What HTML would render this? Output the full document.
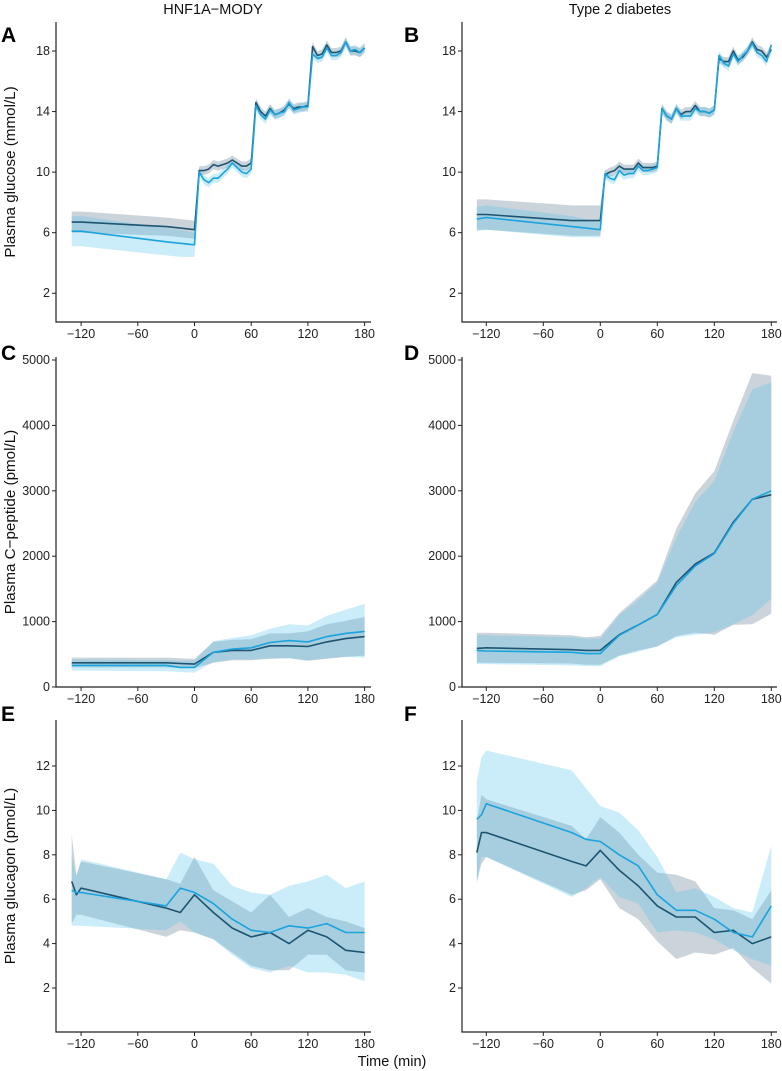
<!DOCTYPE html>
<html><head><meta charset="utf-8"><style>
body{margin:0;background:#fff;width:782px;height:1071px;overflow:hidden}
svg{display:block;font-family:"Liberation Sans",sans-serif}
</style></head><body>
<svg id="fig" width="782" height="1071" viewBox="0 0 782 1071"></svg>
<script>
const gTimes=[-130,-120,-30,-15,0,5,10,15,20,25,30,35,40,45,50,55,60,65,70,75,80,85,90,95,100,105,110,115,120,125,130,135,140,145,150,155,160,165,170,175,180];
const aDark=[6.7,6.7,6.4,6.3,6.2,10.1,10.1,10.2,10.5,10.4,10.5,10.6,10.8,10.6,10.4,10.4,10.6,14.6,14.0,13.7,14.2,13.8,13.9,14.1,14.5,14.2,14.3,14.3,14.4,18.3,17.7,17.8,18.4,17.9,17.9,18.0,18.6,18.0,18.0,17.9,18.2];
const aBlue=[6.1,6.1,5.4,5.3,5.2,10.0,9.5,9.3,9.6,9.6,9.9,10.2,10.6,10.3,10.0,9.9,10.2,14.4,13.8,13.5,14.1,13.8,13.9,14.0,14.6,14.1,14.2,14.3,14.3,17.8,17.5,17.6,18.2,17.7,17.7,17.9,18.6,18.0,18.1,17.9,18.2];
const bDark=[7.2,7.2,6.8,6.8,6.8,9.8,10.0,10.1,10.4,10.2,10.2,10.2,10.6,10.3,10.3,10.3,10.4,14.2,13.7,13.5,14.2,13.8,14.0,14.0,14.4,14.0,14.0,13.9,14.1,17.5,17.3,17.3,18.0,17.4,17.6,18.0,18.6,18.1,18.0,17.6,18.1];
const bBlue=[6.9,7.0,6.4,6.3,6.2,9.9,9.6,9.5,10.1,9.8,9.9,9.9,10.4,10.1,10.1,10.2,10.3,14.2,13.7,13.5,14.2,13.7,13.7,13.7,14.2,14.0,14.0,13.9,14.1,17.7,17.2,17.0,17.8,17.3,17.7,18.0,18.5,17.9,17.7,17.3,18.4];
const aDarkSD=[0.7,0.7,0.6,0.6,0.6];const aBlueSD=[1.0,1.0,0.9,0.9,0.8];
const bDarkSD=[1.0,1.0,1.0,1.0,1.0];const bBlueSD=[0.8,0.8,0.7,0.6,0.5];
const lateSD=0.3;
const cTimes=[-130,-120,-30,-15,0,20,40,60,80,100,120,140,160,180];
const cDark=[370,370,370,360,350,530,560,560,630,630,620,690,740,770];
const cDarkLo=[300,300,300,290,290,370,410,410,430,440,400,430,460,480];
const cDarkHi=[450,450,450,440,430,690,720,730,820,820,850,960,1010,1070];
const cBlue=[330,330,330,300,300,530,580,600,680,710,690,770,820,850];
const cBlueLo=[250,250,240,230,220,380,420,420,440,440,410,440,460,450];
const cBlueHi=[420,420,410,400,400,700,750,790,890,960,940,1090,1180,1270];
const dDark=[590,600,570,560,560,800,950,1110,1600,1880,2050,2520,2870,2940];
const dDarkLo=[370,370,360,340,340,480,560,620,780,830,800,950,960,1120];
const dDarkHi=[830,830,790,760,780,1130,1380,1630,2420,2960,3300,4070,4800,4760];
const dBlue=[560,550,530,510,510,790,950,1110,1550,1850,2040,2500,2870,3000];
const dBlueLo=[350,350,330,320,320,470,540,620,760,800,840,960,1100,1350];
const dBlueHi=[800,790,760,740,740,1100,1330,1600,2280,2830,3150,3900,4550,4660];
const eTimes=[-130,-125,-120,-30,-15,0,20,40,60,80,100,120,140,160,180];
const eDark=[6.8,6.2,6.5,5.6,5.4,6.2,5.4,4.7,4.3,4.5,4.0,4.6,4.3,3.7,3.6];
const eDarkLo=[4.9,5.3,5.3,4.3,4.6,4.5,4.2,3.6,3.0,2.8,2.8,3.5,3.5,2.8,2.7];
const eDarkHi=[8.9,7.1,7.7,6.9,6.7,7.9,6.4,5.9,5.4,6.2,5.2,5.6,5.2,5.0,4.7];
const eBlue=[6.4,6.3,6.3,5.7,6.5,6.3,5.8,5.1,4.6,4.5,4.8,4.7,4.9,4.5,4.5];
const eBlueLo=[4.8,4.8,4.8,4.6,5.0,4.5,4.2,3.5,2.9,2.7,3.0,2.7,2.7,2.6,2.3];
const eBlueHi=[8.0,7.0,7.8,6.9,8.1,7.8,7.6,6.6,6.3,6.2,6.6,6.8,7.1,6.5,6.8];
const fDark=[8.1,9.0,9.0,7.7,7.5,8.2,7.3,6.6,5.7,5.2,5.2,4.5,4.6,4.0,4.3];
const fDarkLo=[6.8,7.6,7.9,6.2,6.4,6.9,5.6,5.1,4.1,3.3,3.6,3.5,3.8,2.9,2.2];
const fDarkHi=[9.5,10.7,10.5,9.3,8.7,9.7,9.0,8.0,7.2,7.1,6.8,5.6,5.5,5.1,6.4];
const fBlue=[9.6,9.8,10.3,9.0,8.7,8.6,8.0,7.5,6.2,5.5,5.5,5.1,4.5,4.3,5.7];
const fBlueLo=[6.7,7.9,7.9,6.1,6.5,7.0,6.1,5.8,4.5,4.6,4.5,4.2,3.7,3.3,3.0];
const fBlueHi=[11.3,12.4,12.7,11.8,11.0,10.2,9.9,9.1,7.9,6.3,6.5,6.1,5.6,5.4,8.4];
const xTicks=[-120,-60,0,60,120,180];
const gTicks=[2,6,10,14,18];
const cTicks=[0,1000,2000,3000,4000,5000];
const eTicks=[2,4,6,8,10,12];

const NS="http://www.w3.org/2000/svg";
const svg=document.getElementById('fig');
function mk(tag,attrs,parent){const e=document.createElementNS(NS,tag);for(const k in attrs)e.setAttribute(k,attrs[k]);(parent||svg).appendChild(e);return e;}
function sdBand(v,sd){return [v.map((d,i)=>d-(i<sd.length?sd[i]:lateSD)),v.map((d,i)=>d+(i<sd.length?sd[i]:lateSD))];}

function panel(o){
  const g=mk('g',{});
  
  
  const X=t=>o.x0+o.kx*t, Y=v=>o.y0-o.ky*(v-o.vmin);
  function band(lo,hi,fill,op,nm){
    let d='M'+o.t.map((t,i)=>X(t).toFixed(1)+','+Y(hi[i]).toFixed(1)).join('L');
    for(let i=o.t.length-1;i>=0;i--)d+='L'+X(o.t[i]).toFixed(1)+','+Y(lo[i]).toFixed(1);
    const p=mk('path',{d:d+'Z',fill:fill,'fill-opacity':op},g);
    
    
  }
  function line(v,col,nm){
    const p=mk('path',{d:'M'+o.t.map((t,i)=>X(t).toFixed(1)+','+Y(v[i]).toFixed(1)).join('L'),fill:'none',stroke:col,'stroke-width':1.6,'stroke-linejoin':'round'},g);
    
    
  }
  band(o.dLo,o.dHi,'#b5c2ca',0.7,'control-band');
  band(o.bLo,o.bHi,'#52c0ec',0.3,'treatment-band');
  line(o.dark,'#1e5470','control-line');
  line(o.blue,'#1aa3dd','treatment-line');
  const ax=mk('path',{d:`M${o.ax},${o.ytop}V${o.y0}H${o.xend}`,fill:'none',stroke:'#222','stroke-width':1.2},g);
  
  
  xTicks.forEach(t=>{
    mk('line',{x1:X(t),x2:X(t),y1:o.y0,y2:o.y0+4,stroke:'#222'},g);
    const tx=mk('text',{x:X(t),y:o.y0+16,'text-anchor':'middle','font-size':12.5,fill:'#222'},g);
    tx.textContent=(t<0?'\u2212'+(-t):t);
    
    
  });
  o.yt.forEach(v=>{
    mk('line',{x1:o.ax-4,x2:o.ax,y1:Y(v),y2:Y(v),stroke:'#222'},g);
    const tx=mk('text',{x:o.ax-6,y:Y(v)+4,'text-anchor':'end','font-size':12.5,fill:'#222'},g);
    tx.textContent=v;
    
    
  });
  const L=mk('text',{x:o.lx,y:o.ly,'font-size':21,'font-weight':'bold',fill:'#000'},g);
  L.textContent=o.letter;
  
  
  if(o.title){
    const yc=(o.ytop+o.y0)/2;
    const tt=mk('text',{x:0,y:0,transform:`translate(15,${yc}) rotate(-90)`,'text-anchor':'middle','font-size':15.2,fill:'#111'},g);
    tt.textContent=o.title;
    
    
  }
}
const L={x0:194.5,kx:0.945,ax:56,xend:371},R={x0:600.3,kx:0.95,ax:462,xend:777};
const gy={y0:322,ytop:22,ky:15.14,vmin:0,yt:gTicks};
const cy={y0:687,ytop:357,ky:0.0654,vmin:0,yt:cTicks};
const ey={y0:1032,ytop:720,ky:22.2,vmin:0,yt:eTicks};
gy.vmin=18-(322-51)/15.14;
ey.vmin=12-(1032-766)/22.2;
const aB1=sdBand(aDark,aDarkSD),aB2=sdBand(aBlue,aBlueSD),bB1=sdBand(bDark,bDarkSD),bB2=sdBand(bBlue,bBlueSD);
panel(Object.assign({name:'panel-a',letter:'A',lx:1,ly:42,title:'Plasma glucose (mmol/L)',t:gTimes,dark:aDark,blue:aBlue,dLo:aB1[0],dHi:aB1[1],bLo:aB2[0],bHi:aB2[1]},L,gy));
panel(Object.assign({name:'panel-b',letter:'B',lx:404,ly:42,t:gTimes,dark:bDark,blue:bBlue,dLo:bB1[0],dHi:bB1[1],bLo:bB2[0],bHi:bB2[1]},R,gy));
panel(Object.assign({name:'panel-c',letter:'C',lx:1,ly:360,title:'Plasma C\u2212peptide (pmol/L)',t:cTimes,dark:cDark,blue:cBlue,dLo:cDarkLo,dHi:cDarkHi,bLo:cBlueLo,bHi:cBlueHi},L,cy));
panel(Object.assign({name:'panel-d',letter:'D',lx:404,ly:360,t:cTimes,dark:dDark,blue:dBlue,dLo:dDarkLo,dHi:dDarkHi,bLo:dBlueLo,bHi:dBlueHi},R,cy));
panel(Object.assign({name:'panel-e',letter:'E',lx:1,ly:721,title:'Plasma glucagon (pmol/L)',t:eTimes,dark:eDark,blue:eBlue,dLo:eDarkLo,dHi:eDarkHi,bLo:eBlueLo,bHi:eBlueHi},L,ey));
panel(Object.assign({name:'panel-f',letter:'F',lx:404,ly:721,t:eTimes,dark:fDark,blue:fBlue,dLo:fDarkLo,dHi:fDarkHi,bLo:fBlueLo,bHi:fBlueHi},R,ey));
function txt(s,x,y,nm,anchor){const t=mk('text',{x:x,y:y,'text-anchor':anchor||'middle','font-size':14.5,fill:'#111'});t.textContent=s;

}
txt('HNF1A\u2212MODY',213,14,'column-title-mody');
txt('Type 2 diabetes',620,14,'column-title-t2d');
txt('Time (min)',392,1066,'x-axis-title');
</script>
</body></html>
